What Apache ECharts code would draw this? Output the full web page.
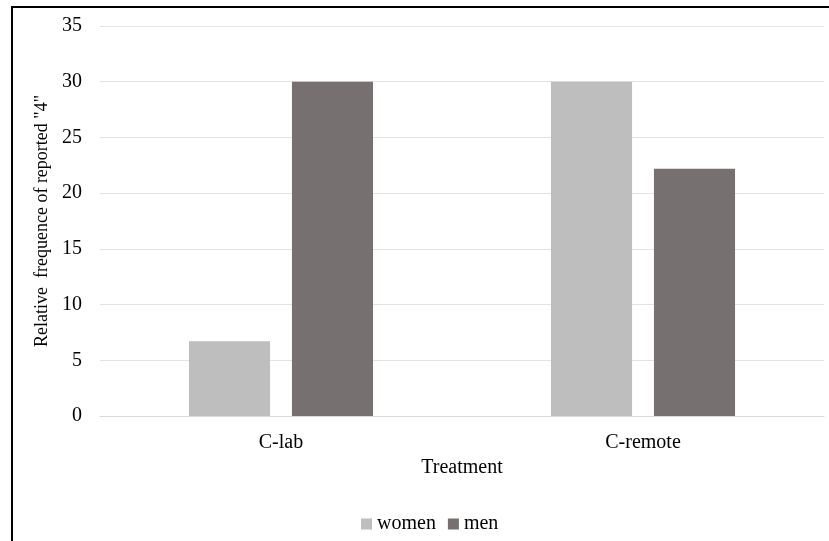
<!DOCTYPE html>
<html lang="en" style="height: 100%">
<head>
<meta charset="utf-8">
<title>Relative frequence of reported 4</title>
</head>
<body style="height: 100%; margin: 0; background: #fff">
<div id="container" style="width: 829px; height: 541px"></div>
<script type="text/javascript" src="https://cdn.jsdelivr.net/npm/echarts/dist/echarts.min.js"></script>
<script type="text/javascript">
var categories = ['C-lab', 'C-remote'];
var women = [6.7, 30];
var men = [30, 22.2];

var dom = document.getElementById('container');
var myChart = echarts.init(dom);
var font = '"Liberation Serif", "Times New Roman", serif';

var option = {
    textStyle: { fontFamily: font },
    animation: false,
    graphic: [
        {
            type: 'polyline',
            shape: { points: [[12, 541], [12, 7], [829, 7]] },
            style: { stroke: '#000', lineWidth: 2, fill: null }
        }
    ],
    grid: { left: 100, right: 5, top: 26, bottom: 125 },
    legend: {
        left: 356,
        top: 509,
        itemWidth: 11,
        itemHeight: 11,
        itemGap: 12,
        icon: 'rect',
        textStyle: { fontFamily: font, fontSize: 20, color: '#000' },
        data: ['women', 'men']
    },
    xAxis: {
        type: 'category',
        data: categories,
        name: 'Treatment',
        nameLocation: 'middle',
        nameGap: 42,
        nameTextStyle: { fontFamily: font, fontSize: 20, color: '#000' },
        axisLine: { show: true, lineStyle: { color: '#d9d9d9' } },
        axisTick: { show: false },
        axisLabel: { fontFamily: font, fontSize: 20, color: '#000', margin: 17 }
    },
    yAxis: {
        type: 'value',
        min: 0,
        max: 35,
        interval: 5,
        name: 'Relative  frequence of reported "4"',
        nameLocation: 'middle',
        nameGap: 48,
        nameTextStyle: { fontFamily: font, fontSize: 18, color: '#000' },
        axisLine: { show: false },
        axisTick: { show: false },
        axisLabel: { fontFamily: font, fontSize: 20, color: '#000', margin: 18 },
        splitLine: { lineStyle: { color: '#e3e3e3' } }
    },
    series: [
        {
            name: 'women',
            type: 'bar',
            data: women,
            barWidth: '22.4%',
            barGap: '27%',
            itemStyle: { color: '#bfbebe' }
        },
        {
            name: 'men',
            type: 'bar',
            data: men,
            barWidth: '22.4%',
            itemStyle: { color: '#767170' }
        }
    ]
};

myChart.setOption(option);
window.addEventListener('resize', myChart.resize);
</script>
</body>
</html>
